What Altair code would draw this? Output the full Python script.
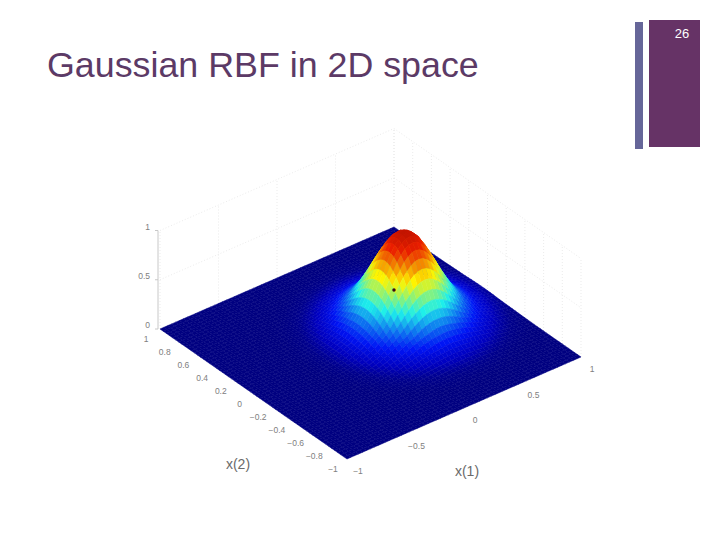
import altair as alt
import numpy as np
import pandas as pd

TITLE = "Gaussian RBF in 2D space"
PAGE_NUMBER = "26"
X1_TICKS = [-1, -0.5, 0, 0.5, 1]
X2_TICKS = [1, 0.8, 0.6, 0.4, 0.2, 0, -0.2, -0.4, -0.6, -0.8, -1]
Z_TICKS = [0, 0.5, 1]

# height of the bump against distance from its centre
PROFILE_R = [0, 0.05, 0.1, 0.15, 0.2, 0.25, 0.3, 0.35, 0.4, 0.5, 0.6, 0.7, 0.8, 0.9, 1.0, 3.0]
PROFILE_Z = [1, 0.975, 0.91, 0.80, 0.67, 0.53, 0.40, 0.29, 0.20, 0.095, 0.035, 0.008, 0.002, 0, 0, 0]
CENTER = (0.33, 0.05)
GRID_N = 60
PEAK_SCALE = 0.93

JET_POS = [0, 0.04, 0.125, 0.375, 0.625, 0.875, 1.0]
JET_R = [0, 0, 0, 30, 255, 235, 190]
JET_G = [0, 0, 20, 240, 245, 30, 20]
JET_B = [128, 190, 245, 235, 0, 0, 0]

# view of the axes box: reference pixel of three floor corners and of unit height
B, R, L = np.array([347.0, 459.0]), np.array([581.0, 357.0]), np.array([160.0, 329.0])
Z_PX = 98.5


def project(x1, x2, z=0.0):
    p = B + (x1 + 1) / 2 * (R - B) + (x2 + 1) / 2 * (L - B)
    return float(p[0]), float(p[1] - z * Z_PX)


def jet(z):
    return "#%02x%02x%02x" % (
        int(np.interp(z, JET_POS, JET_R)),
        int(np.interp(z, JET_POS, JET_G)),
        int(np.interp(z, JET_POS, JET_B)),
    )


def height(x1, x2):
    return float(np.interp(np.hypot(x1 - CENTER[0], x2 - CENTER[1]), PROFILE_R, PROFILE_Z))


axis_vals = np.linspace(-1, 1, GRID_N + 1)
order = sorted(
    [(i, j) for i in range(GRID_N) for j in range(GRID_N)], key=lambda t: -(t[0] + t[1])
)
features = []
for i, j in order:
    corners = [(i, j), (i + 1, j), (i + 1, j + 1), (i, j + 1), (i, j)]
    zs = [height(axis_vals[a], axis_vals[b]) for a, b in corners]
    ring = [[round(v, 2) for v in project(axis_vals[a], axis_vals[b], z * PEAK_SCALE)]
            for (a, b), z in zip(corners, zs)]
    features.append(
        {
            "type": "Feature",
            "properties": {"c": jet(sum(zs[:4]) / 4)},
            "geometry": {"type": "Polygon", "coordinates": [ring]},
        }
    )

xs = alt.Scale(domain=[8, 712], nice=False, zero=False)
ys = alt.Scale(domain=[540, 8], nice=False, zero=False)
X = lambda f: alt.X(f, scale=xs, axis=None)
Y = lambda f: alt.Y(f, scale=ys, axis=None)


def segs(items):
    return pd.DataFrame(
        [{"x": a[0], "y": a[1], "x2": b[0], "y2": b[1]} for a, b in items]
    )


def rules(items, **kw):
    return alt.Chart(segs(items)).mark_rule(**kw).encode(
        x=X("x:Q"), y=Y("y:Q"), x2="x2:Q", y2="y2:Q"
    )


# back walls
wall_v = [(project(t, 1, 0), project(t, 1, 1)) for t in X1_TICKS]
wall_v += [(project(1, t, 0), project(1, t, 1)) for t in X2_TICKS]
wall_h = []
for z in [0.5, 1]:
    wall_h += [(project(-1, 1, z), project(1, 1, z)), (project(1, 1, z), project(1, -1, z))]
walls = rules(wall_v + wall_h, color="#e6e6e6", strokeWidth=1, strokeDash=[1, 2], opacity=0.8)

AX = -2
z_line = [((project(-1, 1, 0)[0] + AX, project(-1, 1, 0)[1]), (project(-1, 1, 1)[0] + AX, project(-1, 1, 1)[1]))]
z_line += [
    ((project(-1, 1, z)[0] + AX - 3, project(-1, 1, z)[1]), (project(-1, 1, z)[0] + AX, project(-1, 1, z)[1]))
    for z in Z_TICKS
]
z_axis = rules(z_line, color="#c8c8c8", strokeWidth=1)

surface = (
    alt.Chart(alt.InlineData(values={"type": "FeatureCollection", "features": features},
                             format=alt.DataFormat(property="features", type="json")))
    .mark_geoshape(strokeWidth=0.5)
    .encode(color=alt.Color("properties.c:N", scale=None),
            stroke=alt.Stroke("properties.c:N", scale=None))
    .project(type="identity", scale=1, translate=[-8, -8])
)

# data point on the surface
dot = (
    alt.Chart(pd.DataFrame({"x": [394], "y": [290]}))
    .mark_point(filled=True, color="#3a0a10", size=12, opacity=1)
    .encode(x=X("x:Q"), y=Y("y:Q"))
)


def fmt(t):
    return str(t).replace("-", "\u2212")


tick_rows = []
for t in X2_TICKS:
    p = project(-1, t)
    tick_rows.append({"x": p[0] - 14, "y": p[1] + 10, "t": fmt(t)})
for t in X1_TICKS:
    p = project(t, -1)
    tick_rows.append({"x": p[0] + 11, "y": p[1] + 12, "t": fmt(t)})
ticks = (
    alt.Chart(pd.DataFrame(tick_rows))
    .mark_text(font="Liberation Sans", fontSize=8.5, color="#808080", align="center", baseline="middle")
    .encode(x=X("x:Q"), y=Y("y:Q"), text="t:N")
)
z_rows = []
for z in Z_TICKS:
    p = project(-1, 1, z)
    z_rows.append({"x": p[0] - 10, "y": p[1] - 4, "t": fmt(z)})
zticks = (
    alt.Chart(pd.DataFrame(z_rows))
    .mark_text(font="Liberation Sans", fontSize=8.5, color="#808080", align="right", baseline="middle")
    .encode(x=X("x:Q"), y=Y("y:Q"), text="t:N")
)
ax_titles = (
    alt.Chart(pd.DataFrame({"x": [238, 467], "y": [465, 472], "t": ["x(2)", "x(1)"]}))
    .mark_text(font="Liberation Sans", fontSize=14, color="#6a6a6a", align="center", baseline="middle")
    .encode(x=X("x:Q"), y=Y("y:Q"), text="t:N")
)

# slide furniture
boxes = pd.DataFrame(
    {"x": [649, 635], "x2": [700, 643], "y": [20, 22], "y2": [147, 149], "c": ["#663366", "#666699"]}
)
furniture = alt.Chart(boxes).mark_rect().encode(
    x=X("x:Q"), x2="x2:Q", y=Y("y:Q"), y2="y2:Q", color=alt.Color("c:N", scale=None)
)
title = (
    alt.Chart(pd.DataFrame({"x": [47], "y": [77], "t": [TITLE]}))
    .mark_text(font="Liberation Sans", fontSize=35.8, color="#5c3a66", align="left", baseline="alphabetic")
    .encode(x=X("x:Q"), y=Y("y:Q"), text="t:N")
)
page = (
    alt.Chart(pd.DataFrame({"x": [682], "y": [34], "t": [PAGE_NUMBER]}))
    .mark_text(font="Liberation Sans", fontSize=13, color="#ffffff", align="center", baseline="middle")
    .encode(x=X("x:Q"), y=Y("y:Q"), text="t:N")
)

chart = (
    alt.layer(furniture, title, page, walls, z_axis, surface, dot, ticks, zticks, ax_titles)
    .properties(width=704, height=532, padding=0, autosize=alt.AutoSizeParams(type="none"),
                background="#ffffff")
    .configure_view(stroke=None)
)
chart.save("out.html", embed_options={"renderer": "svg", "actions": False})
